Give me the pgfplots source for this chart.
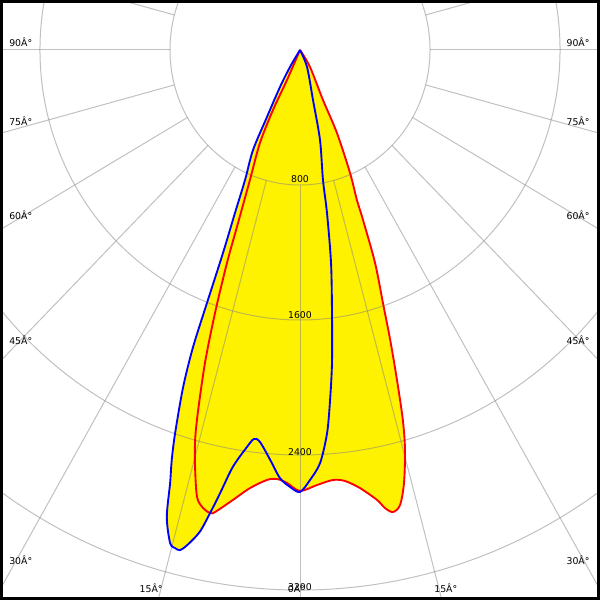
\documentclass[border=0pt]{standalone}
\usepackage{fontspec}
\setmainfont{DejaVu Sans}
\usepackage{pgfplots}
\usepackage{pgfplotstable}
\pgfplotsset{compat=1.18}

% polar curves: a = angle (deg, 0 = down, + = right), r = cd
\pgfplotstableread{
a r
0 0
-31.4 118
-29.3 251
-27.1 446
-26.0 659
-23.7 842
-22.5 1046
-21.5 1293
-20.9 1605
-20.5 1879
-19.8 2123
-18.7 2397
-18.0 2554
-17.3 2688
-16.5 2886
-15.3 3029
-14.6 3050
-14.0 3054
-13.3 3014
-12.2 2922
-11.4 2799
-10.6 2671
-9.5 2505
-7.9 2375
-7.0 2322
-6.05 2336
-4.3 2437
-2.8 2539
-1.36 2590
0 2619
1.38 2549
2.9 2450
4.2 2276
5.1 2082
6.06 1865
7.2 1571
8.6 1277
9.76 980
10.4 783
13.0 547
15.1 307
23.2 110
0 0
}\blueC

\pgfplotstableread{
a r
0 0
-24.2 195
-25.05 392
-24.1 604
-21.8 830
-20.4 1094
-19.6 1340
-18.55 1644
-17.5 1945
-16.3 2241
-15.6 2400
-14.65 2554
-13.45 2724
-12.4 2779
-11.4 2799
-10.8 2787
-8.8 2698
-6.76 2614
-4.56 2556
-3.19 2546
-1.79 2567
0 2613
2.32 2580
4.56 2556
6.19 2569
8.09 2622
10.08 2708
10.9 2764
11.8 2797
12.86 2766
14.0 2645
15.25 2457
16.1 2282
16.97 2045
17.9 1806
18.8 1584
20.1 1344
21.06 1079
21.5 955
22.9 791
24.8 542
25.5 328
31.4 118
0 0
}\redC

\begin{document}
\begin{tikzpicture}[
  gridline/.style={draw={rgb,255:red,130;green,130;blue,130}, opacity=0.5, line width=0.75pt},
  lab/.style={font=\fontsize{7}{8}\selectfont, inner sep=0pt},
]
\begin{axis}[
  scale only axis,
  width=450pt, height=450pt,
  xmin=-1846, xmax=1846,
  ymin=-3259, ymax=296,
  hide axis,
]
% yellow fill
\addplot[fill=yellow, draw=none, smooth, tension=0.5]
  table[x expr={\thisrow{r}*sin(\thisrow{a})}, y expr={-\thisrow{r}*cos(\thisrow{a})}] {\redC};
\addplot[fill=yellow, draw=none, smooth, tension=0.5]
  table[x expr={\thisrow{r}*sin(\thisrow{a})}, y expr={-\thisrow{r}*cos(\thisrow{a})}] {\blueC};

% polar grid
\pgfplotsinvokeforeach{800,1600,2400,3200}{
  \draw[gridline] (axis cs:0,0) ellipse [x radius=#1, y radius=#1];
}
\pgfplotsinvokeforeach{0,15,...,345}{
  \draw[gridline] (axis cs:{800*sin(#1)},{-800*cos(#1)}) -- (axis cs:{5000*sin(#1)},{-5000*cos(#1)});
}

% curves
\addplot[red, line width=1.4pt, smooth, tension=0.5]
  table[x expr={\thisrow{r}*sin(\thisrow{a})}, y expr={-\thisrow{r}*cos(\thisrow{a})}] {\redC};
\addplot[blue, line width=1.4pt, smooth, tension=0.5]
  table[x expr={\thisrow{r}*sin(\thisrow{a})}, y expr={-\thisrow{r}*cos(\thisrow{a})}] {\blueC};

% labels
\node[lab, anchor=west] at (rel axis cs:0.015,0.930) {90Â°};
\node[lab, anchor=west] at (rel axis cs:0.015,0.798) {75Â°};
\node[lab, anchor=west] at (rel axis cs:0.015,0.642) {60Â°};
\node[lab, anchor=west] at (rel axis cs:0.015,0.433) {45Â°};
\node[lab, anchor=west] at (rel axis cs:0.015,0.067) {30Â°};
\node[lab] at (rel axis cs:0.252,0.020) {15Â°};
\node[lab, anchor=east] at (rel axis cs:0.983,0.930) {90Â°};
\node[lab, anchor=east] at (rel axis cs:0.983,0.798) {75Â°};
\node[lab, anchor=east] at (rel axis cs:0.983,0.642) {60Â°};
\node[lab, anchor=east] at (rel axis cs:0.983,0.433) {45Â°};
\node[lab, anchor=east] at (rel axis cs:0.983,0.067) {30Â°};
\node[lab] at (rel axis cs:0.743,0.020) {15Â°};
\node[lab] at (rel axis cs:0.494,0.020) {0Â°};
\node[lab] at (rel axis cs:0.5,0.7017) {800};
\node[lab] at (rel axis cs:0.5,0.475) {1600};
\node[lab] at (rel axis cs:0.5,0.2467) {2400};
\node[lab] at (rel axis cs:0.5,0.0217) {3200};

% frame
\draw[line width=2.25pt, black] ([xshift=1.125pt,yshift=1.125pt]rel axis cs:0,0) rectangle ([xshift=-1.125pt,yshift=-1.125pt]rel axis cs:1,1);
\end{axis}
\end{tikzpicture}
\end{document}
